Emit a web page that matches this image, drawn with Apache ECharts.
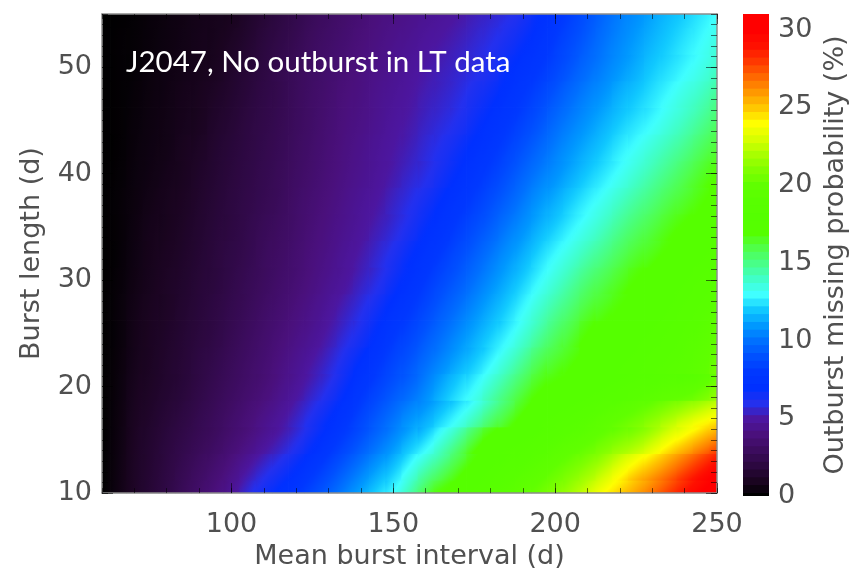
<!DOCTYPE html>
<html>
<head>
<meta charset="utf-8">
<title>J2047, No outburst in LT data</title>
<script src="https://cdn.jsdelivr.net/npm/echarts@6/dist/echarts.min.js"></script>
<style>
  html, body { margin: 0; padding: 0; background: #fff; }
  #chart { width: 850px; height: 575px; }
</style>
</head>
<body>
<div id="chart"></div>
<script>
// mean burst interval (d), cell centres along x
var intervalDays = [60, 65, 70, 75, 80, 85, 90, 95, 100, 105, 110, 115, 120, 125, 130, 135, 140, 145, 150,
  155, 160, 165, 170, 175, 180, 185, 190, 195, 200, 205, 210, 215, 220, 225, 230, 235, 240, 245, 250];

// burst length (d), cell centres along y
var burstLength = [10, 12.5, 15, 17.5, 20, 22.5, 25, 27.5, 30, 32.5, 35, 37.5, 40, 42.5, 45, 47.5, 50, 52.5, 55];

// outburst missing probability (%), one row per burst length
var missingProb = [
  [0, 0.6, 1.2, 1.7, 2.2, 2.8, 3.4, 4.0, 4.7, 5.75, 6.5, 7.2, 7.9, 8.7, 9.5, 10.4, 11.3, 12.2, 13.0, 14.4, 16.0, 17.2, 17.7, 18.2, 18.8, 19.3, 19.9, 20.4, 21.1, 21.9, 22.9, 24.0, 24.9, 25.8, 26.8, 27.9, 29.0, 30.0, 31.0],
  [0, 0.55, 1.15, 1.6, 2.05, 2.55, 3.05, 3.55, 4.15, 4.9, 5.6, 6.2, 6.9, 7.7, 8.5, 9.35, 10.2, 11.05, 11.85, 13.0, 14.2, 15.25, 16.35, 17.3, 18.0, 18.5, 19.0, 19.45, 20.0, 20.6, 21.3, 22.2, 23.3, 24.3, 25.2, 26.2, 27.3, 28.4, 29.5],
  [0, 0.5, 1.1, 1.5, 1.9, 2.3, 2.7, 3.1, 3.6, 4.1, 4.7, 5.25, 5.9, 6.7, 7.5, 8.3, 9.1, 9.9, 10.7, 11.6, 12.4, 13.6, 14.8, 16.2, 17.3, 17.7, 18.1, 18.5, 19.0, 19.4, 19.8, 20.4, 21.0, 21.6, 22.5, 23.6, 24.5, 25.5, 26.5],
  [0, 0.45, 1.0, 1.35, 1.7, 2.05, 2.45, 2.85, 3.3, 3.75, 4.25, 4.75, 5.35, 6.05, 6.75, 7.55, 8.4, 9.15, 9.9, 10.65, 11.2, 12.0, 12.8, 13.8, 15.0, 16.0, 17.0, 17.7, 18.1, 18.45, 18.8, 19.25, 19.7, 20.2, 20.8, 21.5, 22.2, 22.9, 23.6],
  [0, 0.4, 0.9, 1.2, 1.5, 1.8, 2.2, 2.6, 3.0, 3.4, 3.8, 4.3, 4.8, 5.4, 6.0, 6.8, 7.7, 8.4, 9.1, 9.7, 10.5, 11.4, 12.2, 12.9, 13.9, 14.9, 15.9, 16.8, 17.2, 17.5, 17.8, 18.1, 18.4, 18.7, 19.0, 19.3, 19.5, 20.0, 20.8],
  [0, 0.35, 0.8, 1.1, 1.4, 1.7, 2.05, 2.4, 2.8, 3.2, 3.6, 4.05, 4.5, 5.0, 5.55, 6.25, 7.0, 7.75, 8.5, 9.1, 9.85, 10.55, 11.3, 11.95, 12.75, 13.7, 14.7, 15.75, 16.35, 16.85, 17.4, 17.7, 18.0, 18.3, 18.6, 18.9, 19.2, 19.65, 20.3],
  [0, 0.3, 0.75, 1.05, 1.3, 1.6, 1.9, 2.2, 2.6, 3.0, 3.4, 3.8, 4.2, 4.6, 5.1, 5.7, 6.3, 7.1, 7.9, 8.5, 9.2, 9.9, 10.6, 11.3, 12.0, 12.7, 13.6, 14.6, 15.5, 16.2, 17.0, 17.3, 17.6, 17.9, 18.2, 18.5, 18.9, 19.3, 19.8],
  [0, 0.3, 0.7, 1.0, 1.2, 1.5, 1.8, 2.1, 2.45, 2.8, 3.2, 3.55, 3.95, 4.35, 4.8, 5.3, 5.85, 6.5, 7.25, 7.9, 8.6, 9.3, 9.95, 10.65, 11.35, 12.05, 12.85, 13.75, 14.6, 15.35, 16.15, 16.6, 17.05, 17.45, 17.8, 18.15, 18.5, 18.9, 19.3],
  [0, 0.25, 0.6, 0.9, 1.15, 1.4, 1.7, 1.95, 2.3, 2.65, 3.0, 3.35, 3.7, 4.1, 4.5, 4.9, 5.4, 5.9, 6.6, 7.3, 8.0, 8.7, 9.3, 10.0, 10.7, 11.4, 12.1, 12.9, 13.7, 14.5, 15.3, 15.9, 16.5, 17.05, 17.4, 17.8, 18.1, 18.5, 18.8],
  [0, 0.2, 0.55, 0.85, 1.05, 1.3, 1.6, 1.9, 2.2, 2.5, 2.9, 3.2, 3.55, 3.95, 4.3, 4.7, 5.1, 5.6, 6.15, 6.8, 7.45, 8.1, 8.75, 9.4, 10.1, 10.8, 11.45, 12.2, 12.9, 13.6, 14.35, 15.0, 15.7, 16.3, 16.7, 17.2, 17.6, 18.0, 18.3],
  [0, 0.2, 0.5, 0.8, 0.95, 1.2, 1.5, 1.8, 2.05, 2.4, 2.75, 3.05, 3.4, 3.8, 4.15, 4.5, 4.85, 5.25, 5.7, 6.25, 6.9, 7.5, 8.15, 8.8, 9.45, 10.15, 10.8, 11.5, 12.1, 12.75, 13.4, 14.1, 14.85, 15.5, 16.05, 16.65, 17.1, 17.45, 17.8],
  [0, 0.2, 0.45, 0.7, 0.9, 1.1, 1.4, 1.7, 2.0, 2.3, 2.6, 2.9, 3.3, 3.65, 4.0, 4.35, 4.7, 5.0, 5.45, 5.9, 6.4, 7.0, 7.6, 8.2, 8.85, 9.5, 10.2, 10.9, 11.45, 12.1, 12.7, 13.3, 14.0, 14.65, 15.25, 15.9, 16.4, 16.9, 17.4],
  [0, 0.15, 0.4, 0.6, 0.8, 1.0, 1.3, 1.6, 1.9, 2.2, 2.5, 2.8, 3.15, 3.5, 3.85, 4.2, 4.5, 4.8, 5.15, 5.55, 5.9, 6.45, 7.05, 7.65, 8.25, 8.9, 9.6, 10.25, 10.8, 11.4, 12.0, 12.55, 13.15, 13.8, 14.45, 15.1, 15.75, 16.4, 17.0],
  [0, 0.1, 0.35, 0.55, 0.7, 0.95, 1.15, 1.5, 1.8, 2.1, 2.4, 2.7, 3.05, 3.4, 3.75, 4.1, 4.4, 4.7, 5.0, 5.3, 5.7, 6.1, 6.6, 7.15, 7.7, 8.35, 9.0, 9.65, 10.3, 10.9, 11.45, 12.0, 12.6, 13.1, 13.7, 14.3, 14.9, 15.6, 16.25],
  [0, 0.1, 0.3, 0.5, 0.65, 0.85, 1.0, 1.35, 1.65, 2.0, 2.3, 2.6, 2.95, 3.3, 3.65, 4.0, 4.25, 4.55, 4.85, 5.1, 5.45, 5.75, 6.1, 6.65, 7.2, 7.8, 8.4, 9.05, 9.75, 10.35, 10.9, 11.45, 12.0, 12.45, 12.9, 13.5, 14.1, 14.75, 15.5],
  [0, 0.1, 0.25, 0.45, 0.6, 0.8, 0.95, 1.2, 1.5, 1.85, 2.2, 2.5, 2.9, 3.25, 3.55, 3.9, 4.15, 4.45, 4.7, 4.95, 5.25, 5.5, 5.8, 6.25, 6.7, 7.3, 7.9, 8.5, 9.15, 9.8, 10.4, 10.9, 11.5, 11.95, 12.45, 12.95, 13.5, 14.05, 14.75],
  [0, 0.1, 0.2, 0.4, 0.55, 0.7, 0.85, 1.0, 1.35, 1.7, 2.05, 2.45, 2.8, 3.15, 3.45, 3.75, 4.05, 4.3, 4.55, 4.8, 5.05, 5.3, 5.55, 5.85, 6.2, 6.8, 7.35, 7.9, 8.55, 9.2, 9.85, 10.4, 10.95, 11.45, 12.0, 12.4, 12.85, 13.35, 14.0],
  [0, 0.1, 0.2, 0.35, 0.5, 0.65, 0.8, 0.9, 1.15, 1.5, 1.9, 2.25, 2.6, 3.0, 3.3, 3.6, 3.9, 4.15, 4.4, 4.6, 4.85, 5.05, 5.3, 5.6, 5.9, 6.3, 6.8, 7.4, 8.1, 8.75, 9.4, 10.05, 10.6, 11.1, 11.6, 12.05, 12.5, 12.95, 13.5],
  [0, 0.05, 0.15, 0.3, 0.45, 0.6, 0.75, 0.85, 0.95, 1.3, 1.7, 2.05, 2.4, 2.8, 3.1, 3.4, 3.7, 4.0, 4.2, 4.4, 4.6, 4.8, 5.0, 5.3, 5.55, 5.85, 6.25, 6.95, 7.6, 8.3, 9.0, 9.7, 10.3, 10.75, 11.25, 11.7, 12.1, 12.55, 13.0]
];

// colour bar steps (%) and the colour at each whole percent 0..31
var barLevels = [0, 0.5, 1, 1.5, 2, 2.5, 3, 3.5, 4, 4.5, 5, 5.5, 6, 6.5, 7, 7.5, 8, 8.5, 9, 9.5, 10, 10.5,
  11, 11.5, 12, 12.5, 13, 13.5, 14, 14.5, 15, 15.5, 16, 16.5, 17, 17.5, 18, 18.5, 19, 19.5, 20, 20.5,
  21, 21.5, 22, 22.5, 23, 23.5, 24, 24.5, 25, 25.5, 26, 26.5, 27, 27.5, 28, 28.5, 29, 29.5, 30, 30.5, 31];
var rainbow = ['#000000', '#1a0420', '#2c0840', '#3c0c5e', '#4a107c', '#4c16a0', '#2430ee', '#0030ff',
  '#0038ff', '#0050ff', '#0070ff', '#0098ff', '#10c8ff', '#40ffff', '#40ffc8', '#48ff88', '#50ff48',
  '#55ff00', '#55ff00', '#58ff00', '#60ff00', '#80ff00', '#a8ff00', '#d8ff00', '#ffff00', '#ffc800',
  '#ff9800', '#ff6800', '#ff3800', '#ff1000', '#ff0000', '#ff0000'];
var probMax = 31;

// tick labels
var xMajor = [100, 150, 200, 250];
var yMajor = [10, 20, 30, 40, 50];
var barTicks = [0, 5, 10, 15, 20, 25, 30];

var nCols = intervalDays.length;
var nRows = burstLength.length;
var cells = [];
burstLength.forEach(function (len, j) {
  intervalDays.forEach(function (iv, i) {
    cells.push([iv, len, missingProb[j][i]]);
  });
});
var barCells = barLevels.map(function (v) { return [0, v, v]; });

function probColor(v) {
  return echarts.color.lerp(Math.max(0, Math.min(1, v / probMax)), rainbow);
}

function clipToGrid(p0, p1, cs) {
  return echarts.graphic.clipRectByRect({
    x: p0[0], y: p0[1],
    width: p1[0] - p0[0] + 0.8,
    height: p1[1] - p0[1] + 0.8
  }, { x: cs.x, y: cs.y, width: cs.width, height: cs.height });
}

// map cells: the centre takes the visualMap colour, shaded along the local slope of the readings
function renderMapCell(params, api) {
  var x = api.value(0), y = api.value(1), v = api.value(2);
  var j = Math.floor(params.dataIndex / nCols);
  var i = params.dataIndex % nCols;
  var i0 = Math.max(i - 1, 0), i1 = Math.min(i + 1, nCols - 1);
  var j0 = Math.max(j - 1, 0), j1 = Math.min(j + 1, nRows - 1);
  var dvdx = (missingProb[j][i1] - missingProb[j][i0]) / (intervalDays[i1] - intervalDays[i0]);
  var dvdy = (missingProb[j1][i] - missingProb[j0][i]) / (burstLength[j1] - burstLength[j0]);
  var unit = api.size([1, 1]);
  var gx = dvdx / unit[0], gy = -dvdy / unit[1];
  var m = Math.sqrt(gx * gx + gy * gy);

  var p0 = api.coord([x - 2.5, y + 1.25]);
  var p1 = api.coord([x + 2.5, y - 1.25]);
  var shape = clipToGrid(p0, p1, params.coordSys);
  if (!shape) return null;
  var fill = api.visual('color');
  if (m > 1e-6) {
    var c = api.coord([x, y]);
    var r = 0.5 * Math.sqrt(Math.pow(p1[0] - p0[0], 2) + Math.pow(p1[1] - p0[1], 2));
    var ux = gx / m, uy = gy / m;
    var stops = [];
    for (var k = 0; k <= 8; k++) {
      var t = k / 8;
      stops.push({ offset: t, color: k === 4 ? fill : probColor(v + m * r * (2 * t - 1)) });
    }
    fill = new echarts.graphic.LinearGradient(c[0] - ux * r, c[1] - uy * r, c[0] + ux * r, c[1] + uy * r, stops, true);
  }
  return { type: 'rect', shape: shape, style: { fill: fill } };
}

function renderBarCell(params, api) {
  var y = api.value(1);
  var p0 = api.coord([-0.5, y + 0.25]);
  var p1 = api.coord([0.5, y - 0.25]);
  var shape = clipToGrid(p0, p1, params.coordSys);
  return shape && { type: 'rect', shape: shape, style: { fill: api.visual('color') } };
}

var font = { fontFamily: 'DejaVu Sans', fontSize: 27, color: '#505050' };
var frame = { show: true, lineStyle: { color: '#8c8c8c', width: 1.5 } };
var tickColor = 'rgba(0,0,0,0.55)';

function minorX(pos, withLabels) {
  return {
    gridIndex: 0, type: 'value', position: pos, min: 60, max: 250, interval: 10, z: 10,
    axisLine: frame,
    axisTick: { inside: true, length: 5, lineStyle: { color: tickColor } },
    axisLabel: withLabels ? Object.assign({
      margin: 18,
      formatter: function (v) { return xMajor.indexOf(v) >= 0 ? String(v) : ''; }
    }, font) : { show: false },
    splitLine: { show: false }
  };
}
function majorX(pos) {
  return {
    gridIndex: 0, type: 'value', position: pos, min: 60, max: 250, z: 10,
    axisLine: { show: false }, axisLabel: { show: false }, splitLine: { show: false },
    axisTick: { inside: true, length: 10, customValues: xMajor, lineStyle: { color: tickColor } }
  };
}
function minorY(pos, withLabels) {
  return {
    gridIndex: 0, type: 'value', position: pos, min: 10, max: 55, interval: 1, z: 10,
    axisLine: frame,
    axisTick: { inside: true, length: 6, lineStyle: { color: tickColor } },
    axisLabel: withLabels ? Object.assign({
      margin: 10,
      formatter: function (v) { return yMajor.indexOf(v) >= 0 ? String(v) : ''; }
    }, font) : { show: false },
    splitLine: { show: false }
  };
}
function majorY(pos) {
  return {
    gridIndex: 0, type: 'value', position: pos, min: 10, max: 55, z: 10,
    axisLine: { show: false }, axisLabel: { show: false }, splitLine: { show: false },
    axisTick: { inside: true, length: 11, customValues: yMajor, lineStyle: { color: tickColor } }
  };
}

var xBottom = minorX('bottom', true);
xBottom.name = 'Mean burst interval (d)';
xBottom.nameLocation = 'middle';
xBottom.nameGap = 47;
xBottom.nameTextStyle = font;

var yLeft = minorY('left', true);
yLeft.name = 'Burst length (d)';
yLeft.nameLocation = 'middle';
yLeft.nameGap = 57;
yLeft.nameTextStyle = font;

var chart = echarts.init(document.getElementById('chart'));
chart.setOption({
  animation: false,
  backgroundColor: '#ffffff',
  title: {
    text: 'J2047, No outburst in LT data',
    left: 126, top: 47, padding: 0,
    textStyle: { color: '#ffffff', fontFamily: 'Lato', fontWeight: 'normal', fontSize: 29.5 }
  },
  grid: [
    { left: 102, top: 14, width: 615, height: 482 },
    { left: 743, top: 14, width: 26, height: 482 }
  ],
  xAxis: [
    xBottom, majorX('bottom'), minorX('top', false), majorX('top'),
    { gridIndex: 1, type: 'value', min: -0.5, max: 0.5, show: false }
  ],
  yAxis: [
    yLeft, majorY('left'), minorY('right', false), majorY('right'),
    {
      gridIndex: 1, type: 'value', position: 'right', min: 0, max: probMax, interval: 5,
      axisLine: { show: false }, axisTick: { show: false }, splitLine: { show: false },
      axisLabel: Object.assign({
        margin: 9,
        formatter: function (v) { return barTicks.indexOf(v) >= 0 ? String(v) : ''; }
      }, font),
      name: 'Outburst missing probability (%)',
      nameLocation: 'middle', nameGap: 53, nameRotate: 90,
      nameTextStyle: font
    }
  ],
  visualMap: {
    type: 'continuous', show: false, min: 0, max: probMax, dimension: 2,
    seriesIndex: [0, 1], inRange: { color: rainbow }
  },
  series: [
    {
      type: 'custom', name: 'probability', xAxisIndex: 0, yAxisIndex: 0,
      renderItem: renderMapCell, data: cells, silent: true
    },
    {
      type: 'custom', name: 'colour bar', xAxisIndex: 4, yAxisIndex: 4,
      renderItem: renderBarCell, data: barCells, silent: true
    }
  ]
});
</script>
</body>
</html>
